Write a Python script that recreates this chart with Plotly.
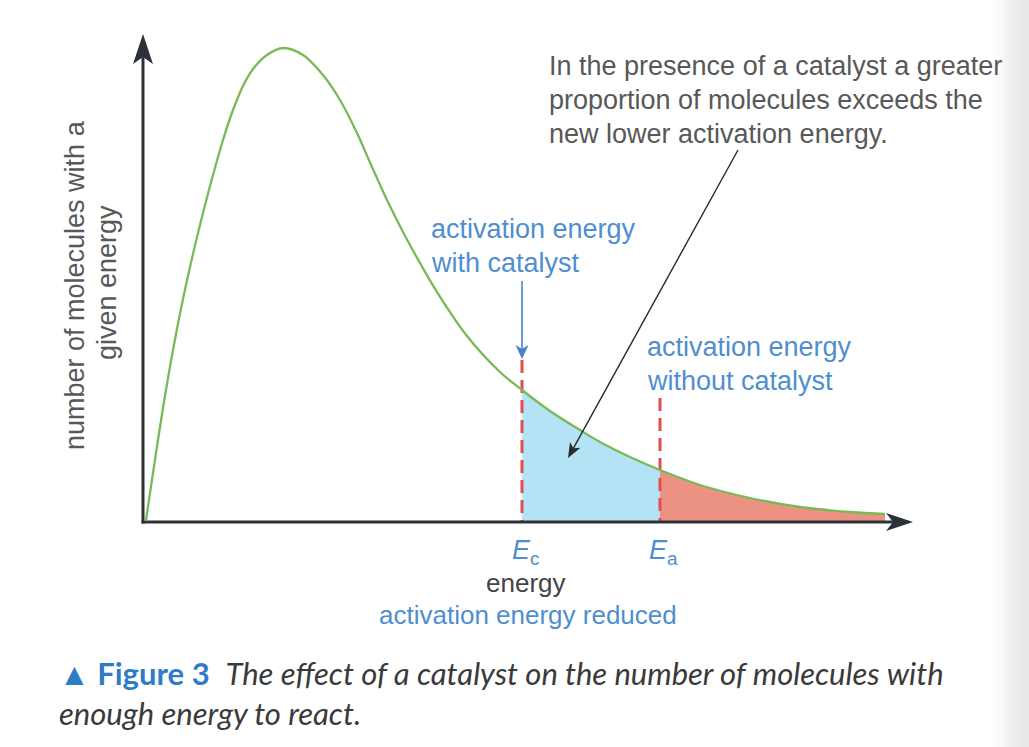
import math
import plotly.graph_objects as go

# ---------------- data ----------------
# energy (arbitrary units) and number of molecules (arbitrary units)
energy = [0.075, 0.25, 0.5, 0.75, 1.0, 1.25, 1.5, 1.75, 2.0, 2.25, 2.5, 2.75, 3.1, 3.5,
          4.0, 4.5, 4.925, 5.35, 5.725, 6.1, 6.5, 6.925, 7.35, 8.1, 8.925, 9.475,
          10.175, 10.925, 11.425, 12.175, 12.925, 13.925, 15.175, 16.425, 17.675, 18.55]
molecules = [0.05, 1.225, 2.85, 4.3, 5.575, 6.7, 7.725, 8.675, 9.55, 10.3, 10.9, 11.325, 11.675, 11.85,
             11.675, 11.175, 10.55, 9.725, 8.875, 8.05, 7.25, 6.475, 5.75, 4.65, 3.75, 3.3,
             2.775, 2.3, 2.0, 1.625, 1.3, 0.925, 0.6, 0.375, 0.25, 0.2]
E_C = 9.475   # activation energy with catalyst
E_A = 12.925  # activation energy without catalyst
tick_labels = ["<i>E</i><sub>c</sub>", "<i>E</i><sub>a</sub>"]
tick_values = [E_C, E_A]

# ---------------- geometry ----------------
W, H = 1029, 747
X0, Y0, S = 143, 522, 40.0          # pixel position of origin and px per unit
XR = [-X0 / S, (W - X0) / S]
YR = [-(H - Y0) / S, Y0 / S]
AX_X_TIP = 19.25
AX_Y_TIP = 12.2


def P(x, y):
    return dict(x=x / W, y=1 - y / H, xref="paper", yref="paper")


def u(px):
    return px / S


def d(px, py):
    return ((px - X0) / S, (Y0 - py) / S)


GREEN = "#79b957"
BLUE_FILL = "#b4e3f5"
RED_FILL = "#ec9282"
RED = "#de4f4d"
BLUE_TXT = "#4f8ecf"
GRAY_TXT = "#585858"
AXIS = "#2c3137"
FONT = "Liberation Sans"

fig = go.Figure()

blue_e = [e for e in energy if E_C <= e <= E_A]
blue_n = [n for e, n in zip(energy, molecules) if E_C <= e <= E_A]
red_e = [e for e in energy if e >= E_A]
red_n = [n for e, n in zip(energy, molecules) if e >= E_A]

fig.add_trace(go.Scatter(x=blue_e, y=blue_n, mode="lines", fill="tozeroy", fillcolor=BLUE_FILL,
                         line=dict(width=0, shape="spline", color=BLUE_FILL), hoverinfo="skip"))
fig.add_trace(go.Scatter(x=red_e, y=red_n, mode="lines", fill="tozeroy", fillcolor=RED_FILL,
                         line=dict(width=0, shape="spline", color=RED_FILL), hoverinfo="skip"))

# dashed activation-energy lines
fig.add_trace(go.Scatter(x=[E_C, E_C], y=[u(162), 0], mode="lines",
                         line=dict(color=RED, width=3, dash="13px,7px"), hoverinfo="skip"))
fig.add_trace(go.Scatter(x=[E_A, E_A], y=[u(124), 0], mode="lines",
                         line=dict(color=RED, width=3, dash="13px,7px"), hoverinfo="skip"))

# distribution curve
fig.add_trace(go.Scatter(x=energy, y=molecules, mode="lines",
                         line=dict(color=GREEN, width=2.3, shape="spline"), hoverinfo="skip"))

shapes = []


def arrow(tail, tip, color, width, L, w, notch):
    """arrow given in pixel positions, converted to data coordinates"""
    dx, dy = tip[0] - tail[0], tip[1] - tail[1]
    ln = math.hypot(dx, dy)
    ux, uy = dx / ln, dy / ln
    nx, ny = -uy, ux
    nb = (tip[0] - notch * ux, tip[1] - notch * uy)
    c1 = (tip[0] - L * ux + w * nx, tip[1] - L * uy + w * ny)
    c2 = (tip[0] - L * ux - w * nx, tip[1] - L * uy - w * ny)
    a0, a1 = d(*tail), d(*nb)
    shapes.append(dict(type="line", xref="x", yref="y", x0=a0[0], y0=a0[1], x1=a1[0], y1=a1[1],
                       line=dict(color=color, width=width)))
    pts = [d(*tip), d(*c1), d(*nb), d(*c2)]
    path = "M " + " L ".join(f"{p[0]:.4f} {p[1]:.4f}" for p in pts) + " Z"
    shapes.append(dict(type="path", xref="x", yref="y", path=path, fillcolor=color,
                       line=dict(width=0)))


# axes
arrow((X0, Y0 + 1.5), (X0, Y0 - AX_Y_TIP * S), AXIS, 3, 30, 10, 23)
arrow((X0 - 1.5, Y0), (X0 + AX_X_TIP * S, Y0), AXIS, 3, 27, 9, 20)
# blue arrow pointing at E_c
arrow((X0 + E_C * S, 281), (X0 + E_C * S, 359), "#4a82c3", 1.6, 14, 6.5, 10)
# black arrow from the note into the shaded area
arrow((738, 150), (568, 458), "#2a2a2a", 1.4, 15, 6, 11)

# right-edge shading of the page
grays = ["#fdfdfd", "#fafafa", "#f6f6f6", "#f2f2f2", "#eeeeee", "#ebebeb", "#e9e9e9", "#e8e8e8"]
x_start = 993
step = (W - x_start) / len(grays)
for i, g in enumerate(grays):
    shapes.append(dict(type="rect", xref="paper", yref="paper", layer="below",
                       x0=(x_start + i * step) / W, x1=(x_start + (i + 1) * step + 0.5) / W, y0=0, y1=1,
                       fillcolor=g, line=dict(width=0)))

ann = []
# y-axis title
ann.append(dict(**P(75, 285), text="number of molecules with a", showarrow=False, textangle=-90,
                font=dict(family=FONT, size=27, color=GRAY_TXT), xanchor="center", yanchor="middle"))
ann.append(dict(**P(107, 283), text="given energy", showarrow=False, textangle=-90,
                font=dict(family=FONT, size=27, color=GRAY_TXT), xanchor="center", yanchor="middle"))

# top-right note
for i, line in enumerate(["In the presence of a catalyst a greater",
                          "proportion of molecules exceeds the",
                          "new lower activation energy."]):
    ann.append(dict(**P(547, 66 + 34 * i), text=line, showarrow=False, xanchor="left", yanchor="middle",
                    font=dict(family=FONT, size=27, color=GRAY_TXT)))

# blue labels
for i, line in enumerate(["activation energy", "with catalyst"]):
    ann.append(dict(**P(429, 229 + 34 * i), text=line, showarrow=False, xanchor="left", yanchor="middle",
                    font=dict(family=FONT, size=27, color=BLUE_TXT)))
for i, line in enumerate(["activation energy", "without catalyst"]):
    ann.append(dict(**P(645, 347 + 34 * i), text=line, showarrow=False, xanchor="left", yanchor="middle",
                    font=dict(family=FONT, size=27, color=BLUE_TXT)))

# tick labels on the energy axis
for v, t in zip(tick_values, tick_labels):
    ann.append(dict(x=v + u(3), y=-u(30), xref="x", yref="y", text=t, showarrow=False,
                    xanchor="center", yanchor="middle", font=dict(family=FONT, size=27, color=BLUE_TXT)))

ann.append(dict(**P(526, 583), text="energy", showarrow=False, xanchor="center", yanchor="middle",
                font=dict(family=FONT, size=26, color="#444444")))
ann.append(dict(**P(528, 615), text="activation energy reduced", showarrow=False, xanchor="center",
                yanchor="middle", font=dict(family=FONT, size=26, color=BLUE_TXT)))

# caption
ann.append(dict(**P(57, 673), showarrow=False, xanchor="left", yanchor="middle",
                text="<span style='color:#2e7cc6'><b>▲ Figure 3</b></span>  "
                     "<i>The effect of a catalyst on the number of molecules with</i>",
                font=dict(family="Lato", size=31, color="#3a3a3a")))
ann.append(dict(**P(57, 713), showarrow=False, xanchor="left", yanchor="middle",
                text="<i>enough energy to react.</i>",
                font=dict(family="Lato", size=31, color="#3a3a3a")))

fig.update_layout(
    width=W, height=H, margin=dict(l=0, r=0, t=0, b=0),
    paper_bgcolor="white", plot_bgcolor="rgba(0,0,0,0)",
    showlegend=False, shapes=shapes, annotations=ann,
    xaxis=dict(range=XR, visible=False, fixedrange=True),
    yaxis=dict(range=YR, visible=False, fixedrange=True),
)

fig.write_html("out.html")
